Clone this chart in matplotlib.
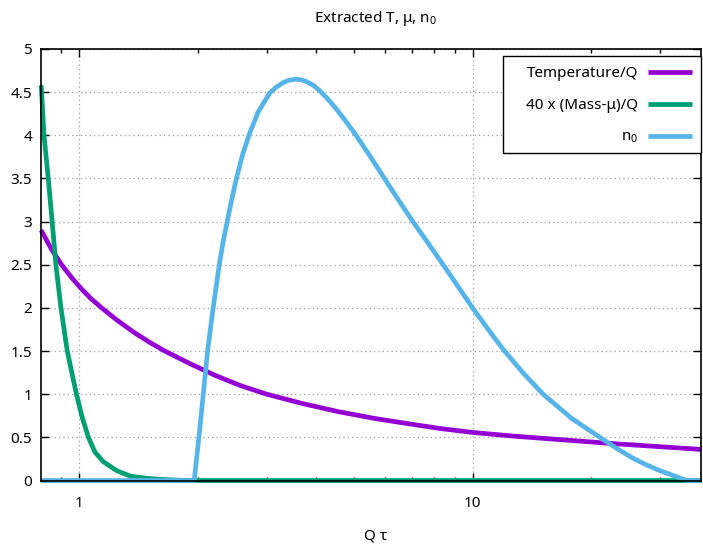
import matplotlib
matplotlib.use("Agg")
import matplotlib.pyplot as plt
from matplotlib.patches import Rectangle
from matplotlib.ticker import FixedLocator, NullFormatter

plt.rcParams['font.family'] = ['Noto Sans', 'DejaVu Sans']
plt.rcParams['mathtext.fontset'] = 'custom'
plt.rcParams['mathtext.rm'] = 'Noto Sans'
plt.rcParams['mathtext.it'] = 'Noto Sans'

# Temperature / Q
tau_T = [0.800, 0.850, 0.902, 0.9565, 1.014, 1.075, 1.14, 1.251, 1.372, 1.506,
         1.65, 1.916, 2.224, 2.577, 2.995, 3.693, 4.556, 5.618, 6.93, 8.32,
         10.0, 12.66, 16.0, 18.92, 22.3, 29.2, 38.2]
temp_Q = [2.90, 2.68, 2.50, 2.35, 2.218, 2.101, 2.00, 1.854, 1.722, 1.604,
          1.50, 1.352, 1.215, 1.098, 1.00, 0.892, 0.798, 0.720, 0.655, 0.601,
          0.557, 0.515, 0.48, 0.455, 0.43, 0.395, 0.36]

# 40 x (Mass - mu) / Q
tau_M = [0.800, 0.8023, 0.8135, 0.8341, 0.8533, 0.8723, 0.8984, 0.9322, 0.9837,
         1.0189, 1.0553, 1.0962, 1.1509, 1.2449, 1.3455, 1.4838, 1.6518,
         1.7816, 1.951, 38.2]
mass_mu = [4.58, 4.5, 4.0, 3.5, 3.0, 2.5, 2.0, 1.5, 1.0,
           0.72, 0.5, 0.33, 0.218, 0.114, 0.052, 0.025, 0.01,
           0.004, 0.0, 0.0]

# n0
tau_n = [0.8, 1.96, 2.02, 2.067, 2.12, 2.19, 2.27, 2.32, 2.378, 2.44, 2.51,
         2.60, 2.70, 2.85, 3.05, 3.162, 3.30, 3.412, 3.555, 3.683, 3.78, 3.951,
         4.09, 4.287, 4.532, 4.764, 5.02, 5.457, 5.93, 6.46, 7.05, 7.71, 8.42,
         9.18, 10.0, 10.94, 11.96, 13.45, 15.12, 17.85, 21.07, 23.23, 25.6,
         27.7, 29.93, 33.0, 35.0, 38.2]
n0 = [0.0, 0.0, 0.55, 1.0, 1.5, 2.0, 2.5, 2.76, 3.0, 3.25, 3.5,
      3.77, 4.0, 4.27, 4.49, 4.555, 4.61, 4.638, 4.65, 4.641, 4.623, 4.575,
      4.515, 4.42, 4.29, 4.16, 4.02, 3.775, 3.52, 3.26, 3.0, 2.75, 2.5,
      2.25, 2.0, 1.755, 1.52, 1.245, 1.0, 0.72, 0.5, 0.373, 0.257,
      0.18, 0.114, 0.044, 0.0, 0.0]

labels = ['Temperature/Q', '40 x (Mass-μ)/Q', 'n$_0$']
colors = ['#9400d3', '#009e73', '#56b4e9']

y_ticks = [0, 0.5, 1, 1.5, 2, 2.5, 3, 3.5, 4, 4.5, 5]
y_ticklabels = ['0', '0.5', '1', '1.5', '2', '2.5', '3', '3.5', '4', '4.5', '5']
x_major = [1, 10]
x_major_labels = ['1', '10']
x_minor = [0.9, 2, 3, 4, 5, 6, 7, 8, 9, 20, 30]

W, H = 703, 546
fig = plt.figure(figsize=(W / 100, H / 100), dpi=100)
left, right, top, bottom = 40.7, 701.5, 49.0, 480.5
ax_w, ax_h = right - left, bottom - top
ax = fig.add_axes([left / W, 1 - bottom / H, ax_w / W, ax_h / H])

lw = 3.4
for xs, ys, lab, c in zip([tau_T, tau_M, tau_n], [temp_Q, mass_mu, n0], labels, colors):
    ax.plot(xs, ys, color=c, lw=lw, label=lab, clip_on=False,
            solid_capstyle='butt', solid_joinstyle='round')

ax.set_xscale('log')
ax.set_xlim(0.798, 38.2)
ax.set_ylim(0, 5)

ax.xaxis.set_major_locator(FixedLocator(x_major))
ax.set_xticklabels(x_major_labels)
ax.xaxis.set_minor_locator(FixedLocator(x_minor))
ax.xaxis.set_minor_formatter(NullFormatter())
ax.set_yticks(y_ticks)
ax.set_yticklabels(y_ticklabels)

fs = 11
ax.tick_params(which='both', direction='in', top=True, right=True,
               labelsize=fs, color='black')
ax.tick_params(which='major', length=5.8, width=1.0)
ax.tick_params(which='minor', length=2.6, width=1.0)
ax.tick_params(axis='x', which='major', pad=11)
ax.tick_params(axis='y', which='major', pad=6)

for s in ax.spines.values():
    s.set_linewidth(1.2)
    s.set_color('black')
    s.set_zorder(5)

ax.grid(which='major', linestyle=(0, (1, 2.5)), color='#a0a0a0', lw=0.9)
ax.set_axisbelow(True)

ax.set_xlabel('Q τ', fontsize=fs)
ax.xaxis.set_label_coords((376 - left) / ax_w, -(529 - bottom) / ax_h)
fig.text(376 / W, 1 - 19 / H, 'Extracted T, μ, n$_0$', ha='center', va='center',
         fontsize=fs)

# key box, in axes fraction
box_l, box_r, box_t, box_b = 503.0, 701.5, 56.0, 152.7
ax.add_patch(Rectangle(((box_l - left) / ax_w, (bottom - box_b) / ax_h),
                       (box_r - box_l) / ax_w, (box_b - box_t) / ax_h,
                       transform=ax.transAxes, facecolor='white',
                       edgecolor='black', lw=1.0, zorder=5.5, clip_on=False))

leg = ax.legend(loc='upper right',
                bbox_to_anchor=((692.5 - left) / ax_w, (bottom - 66) / ax_h),
                borderaxespad=0, borderpad=0, markerfirst=False, fontsize=fs,
                handlelength=2.9, handletextpad=0.65, labelspacing=1.11,
                frameon=False)
leg.set_zorder(6)

fig.savefig('out.png', dpi=100)
